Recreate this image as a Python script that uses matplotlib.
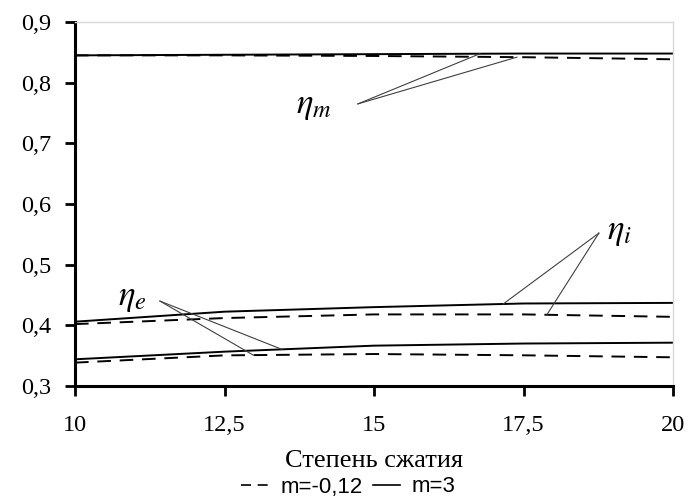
import matplotlib
matplotlib.use("Agg")
import matplotlib.pyplot as plt
from matplotlib.lines import Line2D
import numpy as np

# Compression ratio and efficiencies for two values of m
ratio = [10, 12.5, 15, 17.5, 20]
eta_m_m3 = [0.845, 0.846, 0.847, 0.848, 0.848]
eta_m_neg = [0.845, 0.845, 0.844, 0.842, 0.8385]
eta_i_m3 = [0.406, 0.4225, 0.430, 0.436, 0.437]
eta_i_neg = [0.402, 0.412, 0.418, 0.418, 0.414]
eta_e_m3 = [0.344, 0.3566, 0.3665, 0.370, 0.3714]
eta_e_neg = [0.3385, 0.3505, 0.3527, 0.3506, 0.3473]

x_ticks = [10, 12.5, 15, 17.5, 20]
x_tick_labels = ["10", "12,5", "15", "17,5", "20"]
y_ticks = [0.3, 0.4, 0.5, 0.6, 0.7, 0.8, 0.9]
y_tick_labels = ["0,3", "0,4", "0,5", "0,6", "0,7", "0,8", "0,9"]

serif = "Liberation Serif"
plt.rcParams["mathtext.fontset"] = "stix"
fig = plt.figure(figsize=(6.9, 5.0), dpi=100)
ax = fig.add_axes([0.1087, 0.228, 0.8667, 0.728])

dash = (0, (7, 4.5))
lw = 1.4
for solid, dashed in [(eta_m_m3, eta_m_neg), (eta_i_m3, eta_i_neg), (eta_e_m3, eta_e_neg)]:
    ax.plot(ratio, dashed, color="black", lw=lw, linestyle=dash)
    ax.plot(ratio, solid, color="black", lw=lw)

ax.set_xlim(10, 20)
ax.set_ylim(0.3, 0.9)
ax.set_xticks(x_ticks)
ax.set_xticklabels(x_tick_labels, fontfamily=serif, fontsize=17.5)
ax.set_yticks(y_ticks)
ax.set_yticklabels(y_tick_labels, fontfamily=serif, fontsize=17.5)
ax.tick_params(direction="out", length=7, width=2)
ax.tick_params(axis="x", pad=14)
ax.tick_params(axis="y", pad=10)

for s in ["left", "bottom"]:
    ax.spines[s].set_linewidth(2.2)
for s in ["top", "right"]:
    ax.spines[s].set_color("#d9d9d9")
    ax.spines[s].set_linewidth(1.0)

ax.set_xlabel("Степень сжатия", fontfamily=serif, fontsize=19, labelpad=10)

# Leader-line labels
def leader(text, tx, ty, targets, label_xy):
    for xt, series in targets:
        yt = np.interp(xt, ratio, series)
        ax.plot([tx, xt], [ty, yt], color="#404040", lw=0.8)
    ax.text(label_xy[0], label_xy[1], text, fontsize=25, ha="left", va="center")

leader(r"$\eta_m$", 14.73, 0.765, [(16.77, eta_m_m3), (17.39, eta_m_neg)], (13.7, 0.764))
leader(r"$\eta_i$", 18.76, 0.552, [(17.16, eta_i_m3), (17.89, eta_i_neg)], (18.9, 0.555))
leader(r"$\eta_e$", 11.42, 0.440, [(13.46, eta_e_m3), (12.98, eta_e_neg)], (10.72, 0.447))

handles = [Line2D([], [], color="black", lw=1.2, linestyle=(0, (6, 4))),
           Line2D([], [], color="black", lw=1.2)]
fig.legend(handles, ["m=-0,12", "m=3"], loc="center", bbox_to_anchor=(0.505, 0.026),
           ncol=2, frameon=False, handlelength=1.25, handletextpad=0.5,
           columnspacing=0.45, borderpad=0, prop={"family": "Liberation Sans", "size": 16})

fig.savefig("out.png", dpi=100)
